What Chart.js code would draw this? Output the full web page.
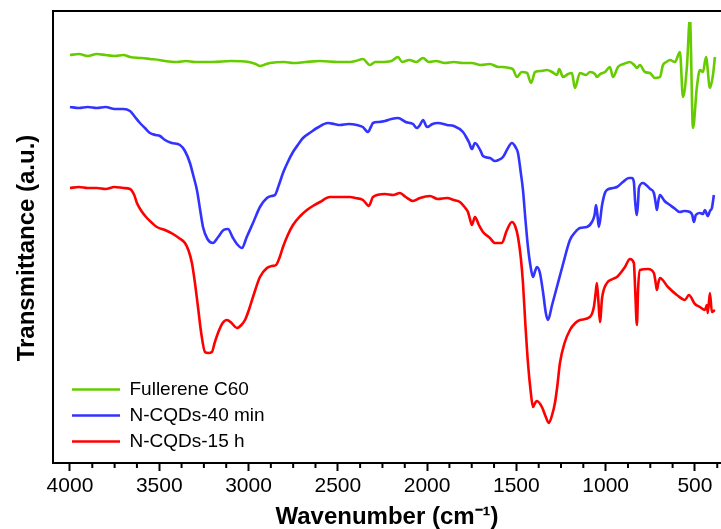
<!DOCTYPE html>
<html>
<head>
<meta charset="utf-8">
<script src="https://cdn.jsdelivr.net/npm/chart.js@4.4.1/dist/chart.umd.min.js"></script>
<style>
html,body{margin:0;padding:0;overflow:hidden;background:#fff;width:721px;height:529px}
#wrap{position:absolute;left:0;top:0;width:724px;height:529px}
</style>
</head>
<body>
<div id="wrap"><canvas id="c" width="724" height="529"></canvas></div>
<script>
// ---- Data (wavenumber in cm-1, transmittance in arbitrary units, offset per curve) ----
const seriesLabels = ['Fullerene C60', 'N-CQDs-40 min', 'N-CQDs-15 h'];
const xTickValues = [4000, 3500, 3000, 2500, 2000, 1500, 1000, 500];

const fullereneWn = [4000,3950,3900,3850,3800,3750,3700,3664,3600,3550,3500,3468,3400,3350,3300,3200,3100,3000,2960,2936,2900,2880,2800,2750,2680,2600,2500,2430,2400,2359,2330,2320,2290,2264,2200,2163,2140,2100,2060,2023,1990,1950,1900,1850,1800,1750,1700,1648,1600,1575,1540,1520,1497,1470,1440,1418,1395,1360,1329,1300,1273,1260,1239,1210,1189,1172,1144,1110,1088,1060,1049,1030,1004,976,959,931,900,864,840,825,808,780,752,724,696,679,660,640,612,584,567,545,528,511,489,472,455,438,416,399,388];
const fullereneT  = [408,409,407,409,408,407,408,406,405,404,403,402,401,402,401,401,402,401,399,397,399,400,401,400,401,402,401,401,402,404,399,398,401,401,402,406,401,403,401,405,401,402,400,401,400,400,398,399,396,396,395,394,386,391,390,380,391,392,393,391,388,394,386,389,390,375,390,388,391,389,386,389,391,396,386,396,399,401,398,395,398,391,390,385,386,398,401,403,401,411,366,396,445,335,376,393,391,406,375,388,406];

const cqd40Wn = [4000,3950,3900,3850,3800,3750,3700,3664,3640,3608,3580,3552,3520,3496,3468,3430,3384,3356,3328,3310,3289,3270,3255,3230,3199,3170,3140,3115,3090,3060,3037,3010,2975,2936,2897,2870,2852,2830,2807,2780,2751,2720,2695,2650,2617,2555,2520,2488,2440,2393,2360,2331,2315,2303,2270,2236,2200,2163,2120,2079,2057,2040,2023,2000,1970,1939,1889,1850,1799,1775,1766,1749,1732,1700,1687,1648,1620,1600,1575,1550,1525,1505,1491,1475,1463,1450,1435,1420,1407,1395,1385,1368,1350,1335,1323,1300,1273,1240,1200,1170,1144,1105,1077,1062,1054,1046,1038,1020,1004,993,960,937,903,870,853,842,835,825,818,814,790,780,750,730,718,713,705,696,670,640,610,584,560,528,515,506,495,472,455,444,428,416,405,394];
const cqd40T  = [356,355,356,355,356,354,354,352,347,340,335,330,328,327,323,320,318,312,300,288,273,252,236,224,220,226,233,234,226,218,215,226,240,256,265,267,268,278,290,301,311,319,325,331,335,340,339,338,339,338,336,331,336,340,341,342,344,345,341,339,335,338,343,336,339,340,338,337,331,324,321,314,320,312,307,305,302,303,306,314,320,316,310,290,273,245,216,196,186,192,196,190,170,150,143,158,176,198,223,231,235,236,241,248,258,248,236,258,270,273,275,276,281,285,285,281,262,248,262,275,280,279,274,270,258,253,262,268,262,258,254,251,252,251,248,241,248,250,249,253,247,252,255,268];

const cqd15Wn = [4000,3950,3900,3850,3800,3750,3700,3664,3640,3625,3600,3569,3540,3513,3468,3423,3390,3356,3335,3317,3300,3283,3265,3244,3225,3205,3190,3171,3145,3121,3095,3065,3040,3020,3000,2975,2936,2897,2870,2846,2825,2807,2780,2751,2710,2673,2640,2600,2544,2500,2432,2400,2359,2326,2303,2236,2190,2152,2120,2079,2040,1984,1940,1889,1850,1816,1790,1771,1760,1749,1732,1710,1687,1648,1620,1600,1581,1555,1525,1505,1491,1475,1463,1450,1435,1420,1407,1395,1385,1357,1335,1318,1300,1284,1270,1256,1230,1200,1170,1144,1088,1066,1056,1049,1040,1032,1020,993,960,937,892,864,842,835,825,818,808,763,730,718,713,705,696,651,601,556,534,500,472,444,433,428,416,405,388];
const cqd15T  = [275,276,275,275,274,276,275,274,268,260,252,245,240,236,233,229,225,220,212,200,180,156,130,111,110,111,120,130,140,143,140,135,138,143,152,166,186,195,197,198,206,216,228,238,247,253,257,261,266,266,266,265,263,257,266,269,268,270,266,262,265,267,264,265,263,261,256,251,244,238,246,238,231,225,220,220,220,232,241,236,226,205,180,140,100,72,56,60,62,56,46,40,48,60,78,100,120,133,140,143,146,156,170,180,160,141,165,180,184,186,196,204,200,175,138,175,193,194,190,178,173,180,185,176,168,163,168,159,156,153,158,150,170,151,153];

const xMinorStep = 125;

function pts(wn, t) {
  const n = Math.min(wn.length, t.length);
  const out = [];
  for (let i = 0; i < n; i++) out.push({x: wn[i], y: t[i]});
  return out;
}

const FONT = "'Liberation Sans', Arial, Helvetica, sans-serif";

const layoutTweak = {
  id: 'layoutTweak',
  afterLayout(chart) {
    const lg = chart.legend;
    if (lg) { lg.left = 65; lg.right = 420; lg.top = 11; lg.bottom = 458; }
    const y = chart.scales.y;
    y.top += 11; y.bottom += 11;
  }
};

const frame = {
  id: 'frame',
  afterDraw(chart) {
    const {ctx, chartArea: a} = chart;
    const xs = chart.scales.x;
    ctx.save();
    ctx.strokeStyle = '#000';
    ctx.lineWidth = 2;
    ctx.beginPath();
    ctx.moveTo(a.left, a.bottom);
    ctx.lineTo(a.left, a.top);
    ctx.lineTo(a.right + 4, a.top);
    ctx.stroke();
    for (let v = Math.ceil(xs.min / xMinorStep) * xMinorStep; v <= xs.max; v += xMinorStep) {
      if (xTickValues.includes(v)) continue;
      const px = xs.getPixelForValue(v);
      ctx.beginPath();
      ctx.moveTo(px, a.bottom);
      ctx.lineTo(px, a.bottom + 5);
      ctx.stroke();
    }
    ctx.restore();
  }
};

const lineStyle = {pointRadius: 0, borderWidth: 2.6, fill: false, cubicInterpolationMode: 'monotone'};

new Chart(document.getElementById('c'), {
  type: 'line',
  data: {
    datasets: [
      Object.assign({label: seriesLabels[0], data: pts(fullereneWn, fullereneT), borderColor: '#66cc00', backgroundColor: '#66cc00'}, lineStyle),
      Object.assign({label: seriesLabels[1], data: pts(cqd40Wn, cqd40T), borderColor: '#3333ff', backgroundColor: '#3333ff'}, lineStyle),
      Object.assign({label: seriesLabels[2], data: pts(cqd15Wn, cqd15T), borderColor: '#ff0000', backgroundColor: '#ff0000'}, lineStyle)
    ]
  },
  options: {
    responsive: false,
    animation: false,
    events: [],
    layout: {padding: {top: 11, right: 3, bottom: 0, left: 0}},
    scales: {
      x: {
        type: 'linear', reverse: true, min: 354, max: 4095,
        afterBuildTicks(s) { s.ticks = xTickValues.map(v => ({value: v})); },
        ticks: {autoSkip: false, maxRotation: 0, minRotation: 0, padding: 3, color: '#000', font: {family: FONT, size: 21},
          callback: (v) => String(v)},
        grid: {display: true, drawOnChartArea: false, drawTicks: true, tickLength: 8, tickWidth: 2, tickColor: '#000', color: '#000'},
        border: {display: true, color: '#000', width: 2},
        title: {display: true, text: 'Wavenumber (cm⁻¹)', color: '#000', font: {family: FONT, size: 24, weight: 'bold', lineHeight: 1}, padding: {top: 0, bottom: 0}},
        afterFit(s) { s.height = 66; }
      },
      y: {
        min: 0, max: 452,
        ticks: {display: false},
        grid: {display: false},
        border: {display: false},
        title: {display: true, text: 'Transmittance (a.u.)', color: '#000', font: {family: FONT, size: 24, weight: 'bold', lineHeight: 1}, padding: {top: 15, bottom: 0}},
        afterFit(s) { s.width = 53; }
      }
    },
    plugins: {
      legend: {
        position: 'chartArea', align: 'end',
        labels: {usePointStyle: true, pointStyle: 'line', pointStyleWidth: 48, padding: 7, color: '#000', font: {family: FONT, size: 19}}
      },
      tooltip: {enabled: false}
    }
  },
  plugins: [layoutTweak, frame]
});
</script>
</body>
</html>
